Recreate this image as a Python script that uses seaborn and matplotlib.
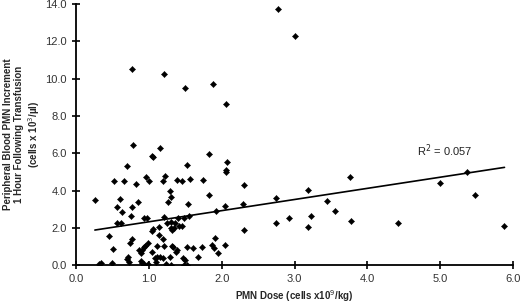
import matplotlib
matplotlib.use("Agg")
import matplotlib.pyplot as plt
import seaborn as sns
import pandas as pd

# PMN dose (cells x10^9/kg) and 1 h blood PMN increment (cells x10^3/ul)
dose = [
    0.26, 0.32, 0.35, 0.46, 0.49, 0.51, 0.52, 0.56, 0.56, 0.61,
    0.62, 0.63, 0.66, 0.70, 0.70, 0.72, 0.73, 0.75, 0.78, 0.77,
    0.74, 0.77, 0.82, 0.85, 0.87, 0.89, 0.91, 0.89, 0.91, 0.94,
    0.97, 0.96, 0.93, 0.95, 1.00, 0.99, 0.94, 0.99, 1.04, 1.06,
    1.04, 1.06, 1.05, 1.10, 1.09, 1.11, 1.15, 1.14, 1.16, 1.14,
    1.11, 1.21, 1.22, 1.20, 1.21, 1.20, 1.23, 1.19, 1.25, 1.26,
    1.29, 1.30, 1.31, 1.30, 1.32, 1.35, 1.36, 1.32, 1.33, 1.37,
    1.38, 1.29, 1.30, 1.38, 1.40, 1.41, 1.46, 1.46, 1.47, 1.49,
    1.48, 1.52, 1.48, 1.52, 1.54, 1.55, 1.52, 1.57, 1.60, 1.68,
    1.73, 1.74, 1.82, 1.83, 1.87, 1.89, 1.91, 1.95, 1.92, 2.04,
    2.04, 2.06, 2.06, 2.07, 2.29, 2.31, 2.31,
    0.77, 1.21, 1.50, 1.88, 2.06, 2.77, 3.00,
    2.74, 2.74, 2.92, 3.19, 3.18, 3.22, 3.44, 3.56, 3.76, 3.78,
    4.42, 4.99, 5.36, 5.48, 5.88,
]
increment = [
    3.49, 0.04, 0.09, 1.55, 0.14, 0.88, 4.49, 3.11, 2.27, 3.54,
    2.24, 2.83, 4.49, 5.33, 0.34, 0.44, 0.16, 2.62, 6.42, 1.41,
    1.16, 3.09, 4.33, 3.38, 0.80, 0.63, 0.80, 0.23, 0.13, 2.52,
    2.52, 4.70, 0.98, 1.02, 4.49, 1.20, 0.04, 0.05, 5.85, 5.81,
    1.84, 1.91, 0.70, 0.19, 0.38, 0.45, 6.26, 2.04, 0.45, 1.63,
    1.02, 2.59, 4.77, 4.49, 1.02, 0.40, 0.04, 1.41, 2.24, 3.36,
    3.97, 2.31, 2.01, 3.66, 1.88, 1.97, 2.27, 1.02, 0.95, 0.68,
    0.80, 0.41, 0.02, 4.56, 2.54, 2.10, 2.10, 4.49, 0.40, 0.27,
    0.02, 0.02, 2.54, 5.35, 3.25, 2.63, 0.98, 4.60, 0.93, 0.45,
    0.96, 4.58, 3.76, 5.94, 1.07, 0.93, 1.45, 0.66, 2.91, 3.16,
    1.07, 5.10, 5.00, 5.53, 3.30, 4.31, 1.90,
    10.50, 10.23, 9.51, 9.73, 8.65, 13.73, 12.30,
    3.61, 2.25, 2.50, 4.01, 2.02, 2.63, 3.43, 2.88, 4.74, 2.36,
    2.24, 4.38, 5.01, 3.74, 2.11,
]

# linear trend line
trend_x = [0.26, 5.88]
trend_y = [1.88, 5.24]
r_squared = 0.057

x_ticks = [0.0, 1.0, 2.0, 3.0, 4.0, 5.0, 6.0]
y_ticks = [0.0, 2.0, 4.0, 6.0, 8.0, 10.0, 12.0, 14.0]

df = pd.DataFrame({"dose": dose, "increment": increment})

sns.set_style("ticks")
plt.rcParams["font.family"] = ["Liberation Sans", "DejaVu Sans"]

fig = plt.figure(figsize=(5.2, 3.03), dpi=100)
ax = fig.add_axes([0.146, 0.125, 0.841, 0.862])

sns.scatterplot(data=df, x="dose", y="increment", marker="D", s=10,
                color="black", edgecolor="black", linewidth=0.3, ax=ax, zorder=3)
sns.lineplot(x=trend_x, y=trend_y, color="black", linewidth=1.2, ax=ax)

ax.text(4.68, 5.85, f"R$^2$ = {r_squared:.3f}", fontsize=8, color="#222222")

ax.set_xlim(0, 6)
ax.set_ylim(0, 14)
ax.set_xticks(x_ticks)
ax.set_yticks(y_ticks)
ax.set_xticklabels([f"{v:.1f}" for v in x_ticks])
ax.set_yticklabels([f"{v:.1f}" for v in y_ticks])
ax.tick_params(direction="inout", length=6, width=1.2, labelsize=8,
               labelcolor="#333333", color="black")

for side in ["left", "bottom"]:
    ax.spines[side].set_linewidth(1.3)
    ax.spines[side].set_color("black")
sns.despine(ax=ax)

ax.set_xlabel("PMN Dose (cells x10$^9$/kg)", fontsize=7, fontweight="bold")
ax.xaxis.set_label_coords(0.5, -0.09)
ax.set_ylabel("Peripheral Blood PMN Increment\n1 Hour Following Transfusion\n(cells x 10$^3$/\u00b5l)",
              fontsize=7, fontweight="bold", linespacing=1.15)
ax.yaxis.set_label_coords(-0.078, 0.5)

fig.savefig("out.png", dpi=100)
